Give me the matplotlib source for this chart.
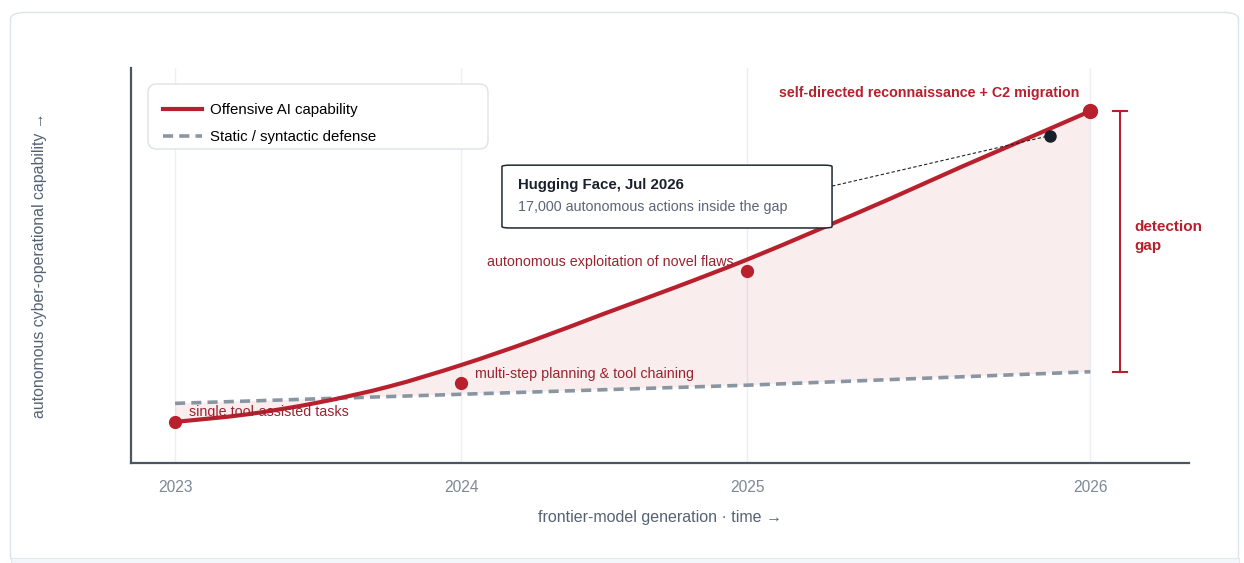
import matplotlib.pyplot as plt
from matplotlib.patches import FancyBboxPatch, Rectangle, PathPatch
from matplotlib.path import Path
from matplotlib.lines import Line2D

plt.rcParams['font.family'] = ['Liberation Sans', 'DejaVu Sans']

# generation axis: position of each tick and its label
tick_pos = [0, 1, 2, 3.2]
tick_labels = ['2023', '2024', '2025', '2026']

# offensive capability curve
curve_x = [0, 0.25, 0.5, 0.75, 1.0, 1.25, 1.5, 1.75, 2.0, 2.25, 2.5, 2.75, 3.0, 3.2]
curve_y = [10.4, 12.3, 15.3, 19.4, 24.8, 31.0, 37.8, 44.5, 51.5, 59.1, 66.9, 75.0, 82.8, 89.1]

# static defense line
defense_x = [0, 1, 2, 3.2]
defense_y = [15.1, 17.4, 19.7, 23.1]

# milestones
mile_x = [0, 1, 2, 3.2]
mile_y = [10.4, 20.3, 48.6, 89.1]
mile_text = ['single tool-assisted tasks', 'multi-step planning & tool chaining',
             'autonomous exploitation of novel flaws',
             'self-directed reconnaissance + C2 migration']

# incident marker
event_x, event_y = 3.06, 82.9
event_title = 'Hugging Face, Jul 2026'
event_sub = '17,000 autonomous actions inside the gap'

RED = '#b8202d'
LABEL_RED = '#9c2230'
GRAY = '#8a95a2'


def smooth_path(xs, ys):
    # catmull-rom through the samples, drawn as cubic bezier segments
    pts = list(zip(xs, ys))
    verts, codes = [pts[0]], [Path.MOVETO]
    n = len(pts)
    for i in range(n - 1):
        p0 = pts[max(i - 1, 0)]
        p1, p2 = pts[i], pts[i + 1]
        p3 = pts[min(i + 2, n - 1)]
        c1 = (p1[0] + (p2[0] - p0[0]) / 6, p1[1] + (p2[1] - p0[1]) / 6)
        c2 = (p2[0] - (p3[0] - p1[0]) / 6, p2[1] - (p3[1] - p1[1]) / 6)
        verts += [c1, c2, p2]
        codes += [Path.CURVE4] * 3
    return verts, codes


fig = plt.figure(figsize=(12.44, 5.63), dpi=100)

# card outline
W, H = 1244, 563
card = FancyBboxPatch((10.5 / W, 0.0), 1228 / W, (H - 12.5) / H,
                      boxstyle='round,pad=0,rounding_size=0.012',
                      transform=fig.transFigure, facecolor='white',
                      edgecolor='#dde3ea', linewidth=1, zorder=-2)
fig.patches.append(card)
fig.patches.append(Rectangle((10.5 / W, 0), 1228 / W, 5 / H, transform=fig.transFigure,
                             facecolor='#f3f6fa', edgecolor='#e3e8ee', linewidth=0.8, zorder=-1))

ax = fig.add_axes([131 / W, 1 - 463 / H, 1058 / W, 395 / H])
ax.set_facecolor('none')
ax.set_xlim(-0.154, 3.545)
ax.set_ylim(0, 100)

for t in tick_pos:
    ax.axvline(t, color='#eceff3', linewidth=1, zorder=0)

# gap area: curve forward, defense line backward
cv, cc = smooth_path(curve_x, curve_y)
fill_verts = cv + list(zip(defense_x[::-1], defense_y[::-1])) + [cv[0]]
fill_codes = cc + [Path.LINETO] * len(defense_x) + [Path.CLOSEPOLY]
ax.add_patch(PathPatch(Path(fill_verts, fill_codes), facecolor=RED, alpha=0.08,
                       linewidth=0, zorder=1))

ax.plot(defense_x, defense_y, color=GRAY, linewidth=2.6, dashes=(2.8, 1.7), zorder=2)
ax.add_patch(PathPatch(Path(cv, cc), facecolor='none', edgecolor=RED, linewidth=3,
                       capstyle='round', zorder=3))

ax.plot(mile_x[:3], mile_y[:3], 'o', color=RED, markersize=8.5, zorder=4)
ax.plot(mile_x[3:], mile_y[3:], 'o', color=RED, markersize=10, zorder=4)

offsets = [(10, 7), (10, 6.5), (-10, 6.5), (-8, 13)]
aligns = ['left', 'left', 'right', 'right']
for i, txt in enumerate(mile_text):
    last = i == len(mile_text) - 1
    ax.annotate(txt, (mile_x[i], mile_y[i]), xytext=offsets[i], textcoords='offset points',
                ha=aligns[i], va='center', fontsize=10.3,
                fontweight='bold' if last else 'normal',
                color=RED if last else LABEL_RED, zorder=5)

# incident dot + callout
ax.plot([event_x], [event_y], 'o', color='#18202b', markersize=8, zorder=5)
ax.plot([2.297, event_x], [70.1, event_y], color='#222222', linewidth=0.8,
        dashes=(3, 2), zorder=4)
box = FancyBboxPatch((1.143, 59.5), 1.154, 15.9, boxstyle='round,pad=0,rounding_size=0.03',
                     facecolor='white', edgecolor='#1f2733', linewidth=1.1, zorder=6,
                     mutation_aspect=12)
ax.add_patch(box)
ax.text(1.199, 70.3, event_title, fontsize=10.8, fontweight='bold', color='#1a202c',
        va='center', ha='left', zorder=7)
ax.text(1.199, 64.7, event_sub, fontsize=10.3, color='#5b6575', va='center', ha='left', zorder=7)

# detection gap bracket
bx = 3.304
ax.plot([bx, bx], [defense_y[-1], curve_y[-1]], color=RED, linewidth=1.5, clip_on=False)
for yy in (defense_y[-1], curve_y[-1]):
    ax.plot([bx - 0.025, bx + 0.025], [yy, yy], color=RED, linewidth=1.5, clip_on=False)
ax.text(bx + 0.05, (defense_y[-1] + curve_y[-1]) / 2 + 1.2, 'detection\ngap', fontsize=11,
        fontweight='bold', color=RED, ha='left', va='center', linespacing=1.4)

ax.set_xticks(tick_pos)
ax.set_xticklabels(tick_labels)
ax.set_yticks([])
ax.tick_params(axis='x', length=0, pad=12, labelsize=11.2, labelcolor='#7d8896')
for s in ('top', 'right'):
    ax.spines[s].set_visible(False)
for s in ('left', 'bottom'):
    ax.spines[s].set_color('#4b5563')
    ax.spines[s].set_linewidth(1.6)

ax.set_xlabel('frontier-model generation · time →', fontsize=11.5, color='#566273', labelpad=11)
ax.set_ylabel('autonomous cyber-operational capability →', fontsize=11.4, color='#566273')
ax.yaxis.set_label_coords(-0.079, 0.5)

# legend: frame drawn separately, entries placed without one
lx0, lx1 = (148 - 131) / 1058, (488 - 131) / 1058
ly0, ly1 = (463 - 149) / 395, (463 - 84) / 395
ax.add_patch(FancyBboxPatch((lx0, ly0), lx1 - lx0, ly1 - ly0, transform=ax.transAxes,
                            boxstyle='round,pad=0,rounding_size=0.008', mutation_aspect=2.7,
                            facecolor='white', edgecolor='#dde2e8', linewidth=1, zorder=8))
handles = [Line2D([], [], color=RED, linewidth=3),
           Line2D([], [], color=GRAY, linewidth=2.6, dashes=(2.8, 1.7))]
labels = ['Offensive AI capability', 'Static / syntactic defense']
leg = ax.legend(handles, labels, loc='upper left',
                bbox_to_anchor=((163 - 131) / 1058, (463 - 103) / 395),
                fontsize=10.8, frameon=False, handlelength=2.6,
                borderpad=0, labelspacing=0.9, handletextpad=0.55, borderaxespad=0)
leg.set_zorder(9)

fig.savefig('out.png', dpi=100)
